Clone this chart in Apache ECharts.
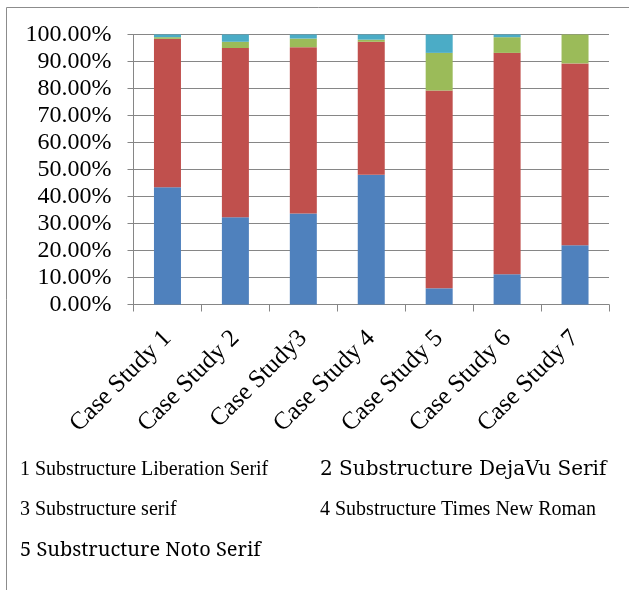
<!DOCTYPE html>
<html>
<head>
<meta charset="utf-8">
<script src="https://cdn.jsdelivr.net/npm/echarts@6/dist/echarts.min.js"></script>
<style>html,body{margin:0;padding:0;background:#fff}#c{width:629px;height:590px}</style>
</head>
<body>
<div id="c"></div>
<script>
var categories = ['Case Study 1','Case Study 2','Case Study3','Case Study 4','Case Study 5','Case Study 6','Case Study 7'];
var substructure = [43.4, 32.3, 33.7, 48.1, 6.0, 11.2, 21.9];
var superstructure = [55.0, 62.7, 61.6, 49.2, 73.3, 82.0, 67.4];
var internalFinishes = [0.6, 2.3, 3.2, 0.8, 13.9, 5.8, 10.7];
var fittings = [0, 0, 0, 0, 0, 0, 0];
var services = [1.0, 2.7, 1.5, 1.9, 6.8, 1.0, 0];
var seriesNames = ['Substructure','Superstructure','Internal Finishes','Fittings & Furnishings','Services'];
var colors = ['#4F81BD','#C0504D','#9BBB59','#8064A2','#4BACC6'];
var yTicks = {min: 0, max: 100, interval: 10};

var font = 'Liberation Serif';
var seriesData = [substructure, superstructure, internalFinishes, fittings, services];
var testFonts = ['Liberation Serif', 'DejaVu Serif', 'serif', 'Times New Roman', 'Noto Serif'];

var g = [{type: 'rect', shape: {x: 6.5, y: 7.5, width: 800, height: 800}, style: {fill: 'none', stroke: '#8c8c8c', lineWidth: 1}, silent: true}];
testFonts.forEach(function (f, i) {
  g.push({type: 'text', silent: true, x: 20 + (i % 2) * 300, y: 460 + Math.floor(i / 2) * 40,
    style: {text: (i + 1) + ' Substructure ' + f, fontFamily: f, fontSize: 20, fill: '#000'}});
});

var chart = echarts.init(document.getElementById('c'));
chart.setOption({
  animation: false,
  color: colors,
  grid: {left: 133.5, right: 20, top: 34.5, bottom: 285.5, containLabel: false},
  graphic: g,
  xAxis: {
    type: 'category', data: categories,
    axisLine: {lineStyle: {color: '#868686', width: 1}},
    axisTick: {show: true, length: 7, alignWithLabel: false, lineStyle: {color: '#868686'}},
    axisLabel: {rotate: 45, interval: 0, fontFamily: font, fontSize: 25, color: '#000', margin: 30}
  },
  yAxis: {
    type: 'value', min: yTicks.min, max: yTicks.max, interval: yTicks.interval,
    axisLine: {show: true, lineStyle: {color: '#868686', width: 1}},
    axisTick: {show: true, length: 6, lineStyle: {color: '#868686'}},
    splitLine: {lineStyle: {color: '#868686', width: 1}},
    axisLabel: {fontFamily: font, fontSize: 24, color: '#000', margin: 22,
      formatter: function (v) { return v.toFixed(2) + '%'; }}
  },
  series: seriesNames.map(function (n, i) {
    return {name: n, type: 'bar', stack: 'total', barWidth: 27, data: seriesData[i]};
  })
});
</script>
</body>
</html>
